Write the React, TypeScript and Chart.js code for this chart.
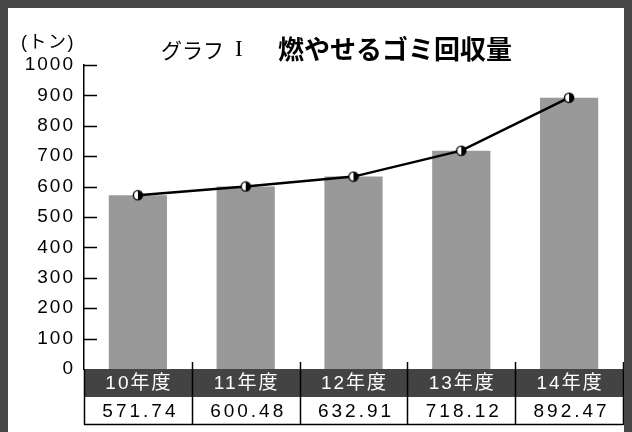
import React, { useEffect, useRef } from "react";
import { Chart, registerables } from "chart.js";

Chart.register(...registerables);

const categories = ["10年度", "11年度", "12年度", "13年度", "14年度"];
const values = [571.74, 600.48, 632.91, 718.12, 892.47];
const valueLabels = ["571.74", "600.48", "632.91", "718.12", "892.47"];
const yMin = 0;
const yMax = 1000;
const yStep = 100;
const titlePrefix = "グラフ";
const titleNumeral = "I";
const titleMain = "燃やせるゴミ回収量";
const unitLabel = "(トン)";

const SANS = "'Liberation Sans', Arial, 'Noto Sans CJK JP', sans-serif";
const CJK = "'Noto Sans CJK JP', sans-serif";

function makeMarker(): HTMLCanvasElement {
  const c = document.createElement("canvas");
  c.width = 12;
  c.height = 12;
  const g = c.getContext("2d")!;
  const cx = 6, cy = 6, r = 4.6;
  g.fillStyle = "#fff";
  g.beginPath();
  g.arc(cx, cy, r, Math.PI / 2, (Math.PI * 3) / 2);
  g.closePath();
  g.fill();
  g.fillStyle = "#000";
  g.beginPath();
  g.arc(cx, cy, r, -Math.PI / 2, Math.PI / 2);
  g.closePath();
  g.fill();
  g.strokeStyle = "#000";
  g.lineWidth = 1.4;
  g.beginPath();
  g.arc(cx, cy, r, 0, Math.PI * 2);
  g.stroke();
  return c;
}

const decorPlugin = {
  id: "decor",
  beforeDraw(chart: any) {
    chart.ctx.letterSpacing = "2px";
  },
  afterDraw(chart: any) {
    const ctx: CanvasRenderingContext2D = chart.ctx;
    const { left, right, bottom } = chart.chartArea;
    const x = chart.scales.x;
    const y = chart.scales.y;
    ctx.save();

    // inward y ticks
    ctx.strokeStyle = "#000";
    ctx.lineWidth = 1.5;
    y.ticks.forEach((t: any) => {
      if (t.value === yMin) return;
      const py = Math.round(y.getPixelForValue(t.value)) + 0.5;
      ctx.beginPath();
      ctx.moveTo(left, py);
      ctx.lineTo(left + 13, py);
      ctx.stroke();
    });

    // table
    const n = categories.length;
    const colW = (right - left) / n;
    const rowH = 28;
    const hTop = bottom;
    const hBot = bottom + rowH;
    const vBot = bottom + rowH * 2;
    ctx.fillStyle = "#434343";
    ctx.fillRect(left, hTop, right - left, rowH);
    ctx.fillStyle = "#fff";
    ctx.fillRect(left, hBot, right - left, rowH);

    ctx.strokeStyle = "#000";
    ctx.lineWidth = 1.5;
    for (let i = 0; i <= n; i++) {
      const cx = i < n ? x.getPixelForValue(i) - colW / 2 : x.getPixelForValue(n - 1) + colW / 2;
      const px = Math.round(cx) + 0.5;
      ctx.beginPath();
      ctx.moveTo(px, i === 0 ? bottom : bottom - 7);
      ctx.lineTo(px, vBot);
      ctx.stroke();
    }
    ctx.beginPath();
    ctx.moveTo(left, Math.round(vBot) - 0.5);
    ctx.lineTo(right, Math.round(vBot) - 0.5);
    ctx.stroke();

    ctx.textAlign = "center";
    ctx.textBaseline = "middle";
    for (let i = 0; i < n; i++) {
      const cx = x.getPixelForValue(i) + 1;
      ctx.letterSpacing = "2px";
      ctx.font = `19px ${SANS}`;
      ctx.fillStyle = "#fff";
      ctx.fillText(categories[i], cx, hTop + rowH / 2 + 1);
      ctx.letterSpacing = "3px";
      ctx.font = `19px ${SANS}`;
      ctx.fillStyle = "#000";
      ctx.fillText(valueLabels[i], cx + 1.5, hBot + rowH / 2 + 1);
    }

    // unit label and title
    ctx.letterSpacing = "1.5px";
    ctx.textAlign = "left";
    ctx.fillStyle = "#000";
    ctx.font = `18px ${SANS}`;
    ctx.fillText(unitLabel, 13, 35);

    ctx.letterSpacing = "0px";
    ctx.font = `21px ${CJK}`;
    ctx.fillText(titlePrefix, 153, 42);
    ctx.font = `23px 'Liberation Serif', serif`;
    ctx.fillText(titleNumeral, 227, 42);
    ctx.font = `bold 26px ${CJK}`;
    ctx.fillText(titleMain, 270, 41);

    ctx.restore();
  },
};

export default function App() {
  const ref = useRef<HTMLCanvasElement | null>(null);

  useEffect(() => {
    document.body.style.background = "#474747";
    document.body.style.margin = "8px";
    const canvas = ref.current!;
    const marker = makeMarker();
    const chart = new Chart(canvas, {
      type: "bar",
      data: {
        labels: categories,
        datasets: [
          {
            type: "line",
            data: values,
            borderColor: "#000",
            borderWidth: 2.5,
            pointStyle: marker as any,
            pointRadius: 5,
            tension: 0,
            order: 0,
          } as any,
          {
            type: "bar",
            data: values,
            backgroundColor: "#999999",
            categoryPercentage: 1,
            barPercentage: 0.54,
            order: 1,
          },
        ],
      },
      options: {
        animation: false,
        responsive: false,
        devicePixelRatio: 1,
        layout: { padding: { left: 0, right: 9, top: 57, bottom: 63 } },
        plugins: {
          legend: { display: false },
          tooltip: { enabled: false },
          title: { display: false },
        },
        scales: {
          x: { display: false },
          y: {
            min: yMin,
            max: yMax,
            ticks: {
              stepSize: yStep,
              padding: 9,
              color: "#000",
              font: { family: SANS, size: 19 },
              callback: (v: any) => String(v),
            },
            grid: { display: false, drawTicks: false },
            border: { display: true, color: "#000", width: 1.5 },
            afterFit: (scale: any) => {
              scale.width = 76;
            },
          },
        },
      },
      plugins: [decorPlugin],
    });
    return () => chart.destroy();
  }, []);

  return (
    <canvas
      ref={ref}
      width={624}
      height={424}
      style={{ display: "block", background: "#fff", width: 624, height: 424 }}
    />
  );
}
